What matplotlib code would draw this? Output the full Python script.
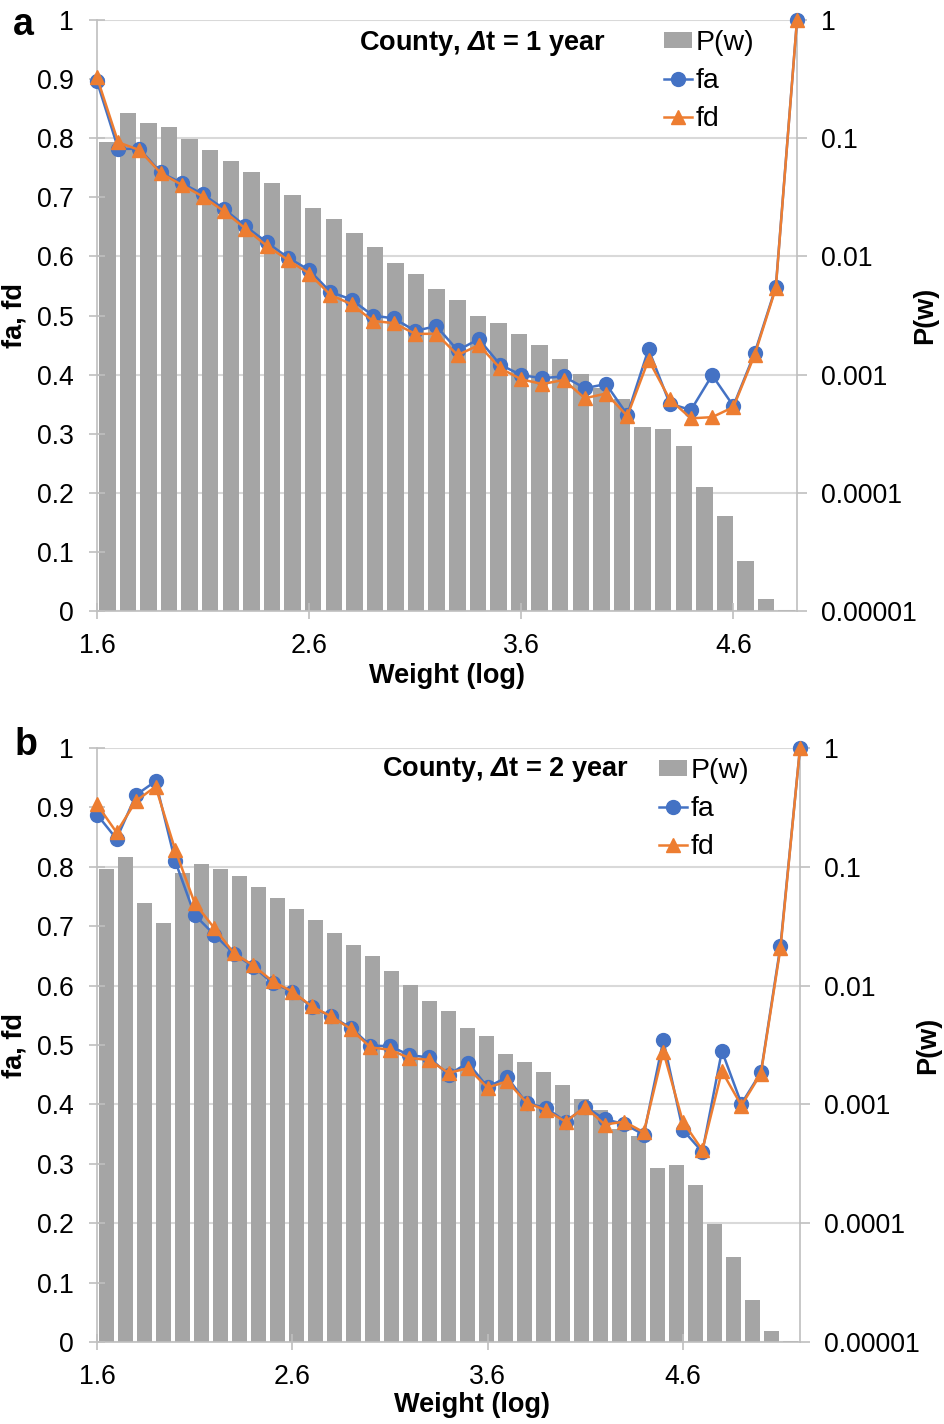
#!/usr/bin/env python3

from matplotlib import rcParams
from matplotlib.lines import Line2D
from matplotlib.patches import Patch
from matplotlib.pyplot import close, figure, savefig
from numpy import array, arange

rcParams["font.family"] = ["Liberation Sans", "DejaVu Sans"]
rcParams["mathtext.fontset"] = "custom"
rcParams["mathtext.sf"] = "Liberation Sans:italic:bold"
rcParams["mathtext.rm"] = "Liberation Sans:bold"

W, H = 944, 1424

# panel a: County, dt = 1 year
weight_a = [1.6, 1.7, 1.8, 1.9, 2.0, 2.1, 2.2, 2.3, 2.4, 2.5, 2.6, 2.7,
            2.8, 2.9, 3.0, 3.1, 3.2, 3.3, 3.4, 3.5, 3.6, 3.7, 3.8, 3.9,
            4.0, 4.1, 4.2, 4.3, 4.4, 4.5, 4.6, 4.7, 4.8, 4.9]
pw_a = [0.093, 0.164, 0.134, 0.124, 0.099, 0.0794, 0.0638, 0.0521, 0.0418,
        0.0333, 0.0258, 0.0207, 0.0157, 0.0119, 0.00885, 0.0071, 0.0053,
        0.00427, 0.00315, 0.00272, 0.00219, 0.00177, 0.00135, 0.00102,
        0.000766, 0.000625, 0.000361, 0.000344, 0.000249, 0.000112,
        6.37e-5, 2.67e-5, 1.27e-5, 1.02e-5]
fa_a = [0.896, 0.782, 0.782, 0.742, 0.724, 0.705, 0.680, 0.651, 0.624, 0.598,
        0.577, 0.540, 0.527, 0.500, 0.495, 0.474, 0.482, 0.441, 0.460, 0.417,
        0.399, 0.394, 0.397, 0.377, 0.384, 0.332, 0.443, 0.351, 0.340, 0.399,
        0.347, 0.436, 0.548, 1.0]
fd_a = [0.903, 0.793, 0.780, 0.741, 0.721, 0.701, 0.676, 0.647, 0.618, 0.594,
        0.571, 0.535, 0.519, 0.491, 0.487, 0.469, 0.469, 0.433, 0.450, 0.411,
        0.392, 0.384, 0.391, 0.360, 0.368, 0.330, 0.425, 0.358, 0.326, 0.328,
        0.345, 0.433, 0.546, 1.0]

# panel b: County, dt = 2 year
weight_b = [1.6, 1.7, 1.8, 1.9, 2.0, 2.1, 2.2, 2.3, 2.4, 2.5, 2.6, 2.7,
            2.8, 2.9, 3.0, 3.1, 3.2, 3.3, 3.4, 3.5, 3.6, 3.7, 3.8, 3.9,
            4.0, 4.1, 4.2, 4.3, 4.4, 4.5, 4.6, 4.7, 4.8, 4.9, 5.0, 5.1, 5.2]
pw_b = [0.0958, 0.121, 0.0496, 0.0334, 0.0892, 0.106, 0.0958, 0.083, 0.068,
        0.0546, 0.0441, 0.0354, 0.0277, 0.0218, 0.0176, 0.0133, 0.0102,
        0.00741, 0.00615, 0.00436, 0.00373, 0.00266, 0.00226, 0.00186,
        0.00146, 0.0011, 0.000902, 0.000624, 0.000538, 0.000292, 0.000307,
        0.000208, 9.9e-5, 5.15e-5, 2.27e-5, 1.23e-5, 1.02e-5]
fa_b = [0.888, 0.847, 0.921, 0.944, 0.810, 0.719, 0.686, 0.654, 0.632, 0.604,
        0.590, 0.564, 0.548, 0.529, 0.499, 0.498, 0.483, 0.479, 0.450, 0.470,
        0.429, 0.446, 0.402, 0.394, 0.371, 0.396, 0.375, 0.367, 0.349, 0.508,
        0.357, 0.320, 0.490, 0.401, 0.454, 0.667, 1.0]
fd_b = [0.905, 0.858, 0.911, 0.935, 0.829, 0.739, 0.697, 0.655, 0.634, 0.607,
        0.590, 0.565, 0.548, 0.527, 0.496, 0.492, 0.478, 0.475, 0.453, 0.461,
        0.428, 0.439, 0.403, 0.390, 0.371, 0.396, 0.366, 0.371, 0.353, 0.489,
        0.371, 0.323, 0.456, 0.398, 0.452, 0.663, 1.0]

x_ticks = [1.6, 2.6, 3.6, 4.6]
left_ticks = [0, 0.1, 0.2, 0.3, 0.4, 0.5, 0.6, 0.7, 0.8, 0.9, 1]
left_labels = ["0", "0.1", "0.2", "0.3", "0.4", "0.5", "0.6", "0.7", "0.8",
               "0.9", "1"]
right_ticks = [1e-5, 1e-4, 1e-3, 1e-2, 1e-1, 1]
right_labels = ["0.00001", "0.0001", "0.001", "0.01", "0.1", "1"]

GREY = "#A5A5A5"
BLUE = "#4472C4"
ORANGE = "#ED7D31"
SPINE = "#BFBFBF"
GRID = "#D9D9D9"
P_MIN = 1e-5
TICK_SIZE = 19.2
LABEL_SIZE = 19.5


def fx(px):
    return px / W


def fy(py):
    return 1 - py / H


def do_panel(fig, box, weight, pw, fa, fd, title, letter, spots):
    (x0, y0, x1, y1) = box
    ax = fig.add_axes([fx(x0), fy(y1), fx(x1) - fx(x0), fy(y0) - fy(y1)])
    ax2 = ax.twinx()
    ax.set_zorder(ax2.get_zorder() + 1)
    ax.patch.set_visible(False)

    lo, hi = weight[0], weight[-1]
    step = (hi - lo) / len(pw)
    centers = lo + (arange(len(pw)) + 0.5) * step
    ax2.set_yscale("log")
    ax2.bar(centers, array(pw) - P_MIN, width=step * 0.8, bottom=P_MIN,
            color=GREY, zorder=2)
    ax2.set_ylim(P_MIN, 1)
    ax2.set_yticks(right_ticks)
    ax2.set_yticklabels(right_labels)
    ax2.minorticks_off()
    ax2.yaxis.grid(True, color=GRID, lw=1.5, zorder=0)
    ax2.set_axisbelow(True)

    ax.plot(weight, fa, color=BLUE, lw=1.8, marker="o", ms=10, zorder=3,
            clip_on=False)
    ax.plot(weight, fd, color=ORANGE, lw=1.8, marker="^", ms=10.5, zorder=4,
            clip_on=False)
    ax.set_xlim(lo, hi)
    ax.set_ylim(0, 1)
    ax.set_xticks(x_ticks)
    ax.set_xticklabels([str(t) for t in x_ticks])
    ax.set_yticks(left_ticks)
    ax.set_yticklabels(left_labels)

    for a in (ax, ax2):
        a.spines["top"].set_visible(False)
        for side in ("left", "right", "bottom"):
            a.spines[side].set_color(SPINE)
            a.spines[side].set_linewidth(1.2)
    ax.spines["right"].set_visible(False)
    ax2.spines["left"].set_visible(False)
    ax2.spines["bottom"].set_visible(False)
    ax.tick_params(axis="y", direction="inout", length=12, width=1.2,
                   color=SPINE, labelsize=TICK_SIZE, pad=11)
    ax.tick_params(axis="x", direction="inout", length=12, width=1.2,
                   color=SPINE, labelsize=TICK_SIZE, pad=10)
    ax2.tick_params(axis="y", direction="out", length=7, width=1.2,
                    color=SPINE, labelsize=TICK_SIZE, pad=10)

    fig.text(fx(spots["letter"][0]), fy(spots["letter"][1]), letter,
             size=27, weight="bold", ha="center", va="center")
    fig.text(fx(spots["title"][0]), fy(spots["title"][1]), title,
             size=19.5, weight="bold", ha="center", va="center")
    fig.text(fx(spots["xlabel"][0]), fy(spots["xlabel"][1]), "Weight (log)",
             size=LABEL_SIZE, weight="bold", ha="center", va="center")
    fig.text(fx(spots["ylabel"][0]), fy(spots["ylabel"][1]), "fa, fd",
             size=LABEL_SIZE, weight="bold", ha="center", va="center",
             rotation=90)
    fig.text(fx(spots["y2label"][0]), fy(spots["y2label"][1]), "P(w)",
             size=LABEL_SIZE, weight="bold", ha="center", va="center",
             rotation=90)

    handles = [
        Patch(facecolor=GREY, edgecolor="none"),
        Line2D([], [], color=BLUE, lw=1.8, marker="o", ms=10),
        Line2D([], [], color=ORANGE, lw=1.8, marker="^", ms=10.5),
    ]
    ax.legend(handles, ["P(w)", "fa", "fd"], loc="upper left",
              bbox_to_anchor=(fx(spots["legend"][0]), fy(spots["legend"][1])),
              bbox_transform=fig.transFigure, frameon=False, fontsize=20.5,
              handlelength=1.0, handleheight=0.5, handletextpad=0.1,
              labelspacing=0.42, borderaxespad=0, borderpad=0)


def main():
    fig = figure(figsize=(W / 100, H / 100), dpi=100)
    do_panel(fig, (97, 20, 797, 611), weight_a, pw_a, fa_a, fd_a,
             r"County, $\mathsf{Δ}$t = 1 year", "a", {
                 "letter": (23, 25),
                 "title": (482, 44),
                 "xlabel": (447, 676),
                 "ylabel": (14, 315),
                 "y2label": (925, 315),
                 "legend": (664, 30),
             })
    do_panel(fig, (97, 748, 800, 1342), weight_b, pw_b, fa_b, fd_b,
             r"County, $\mathsf{Δ}$t = 2 year", "b", {
                 "letter": (26, 745),
                 "title": (505, 770),
                 "xlabel": (472, 1405),
                 "ylabel": (14, 1045),
                 "y2label": (928, 1045),
                 "legend": (659, 758),
             })
    savefig("out.png", dpi=100)
    close()


if __name__ == "__main__":
    main()
